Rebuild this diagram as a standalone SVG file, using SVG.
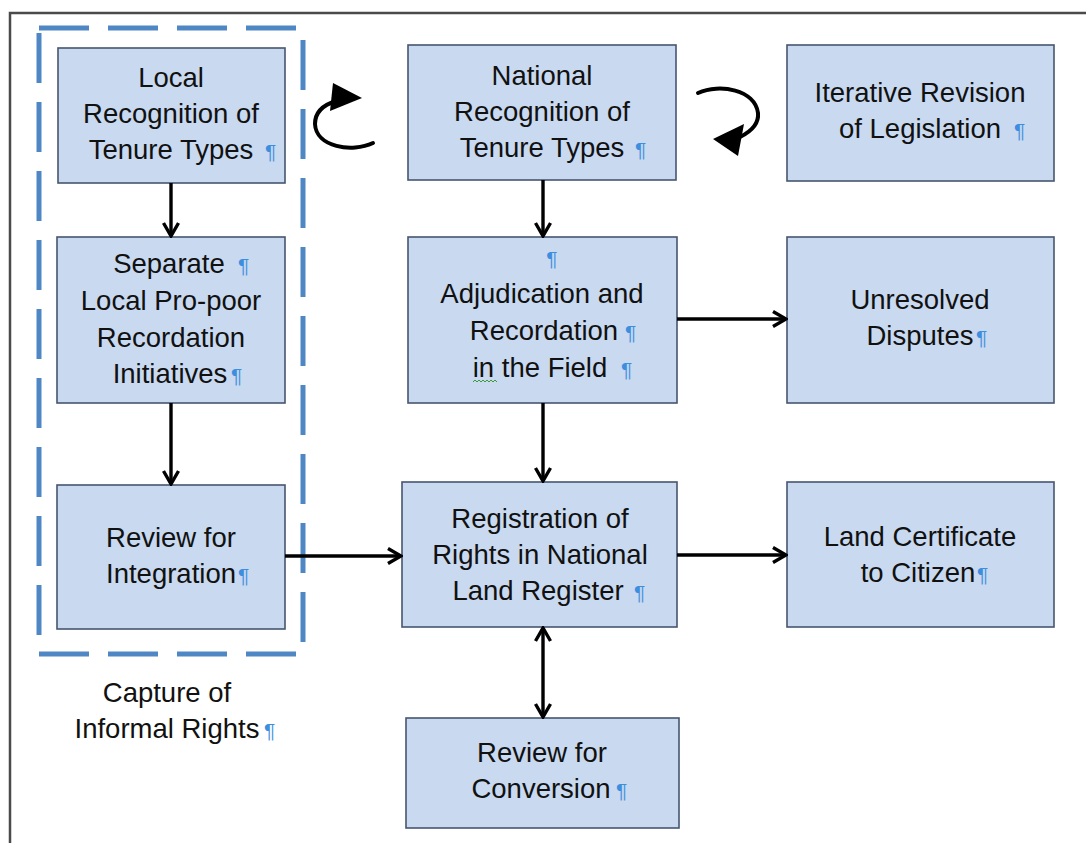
<svg xmlns="http://www.w3.org/2000/svg" width="1086" height="843" viewBox="0 0 1086 843">
<style>
.box{fill:#c8d9f0;stroke:#46566e;stroke-width:1.6}
.t{font-family:"Liberation Sans",Arial,sans-serif;font-size:27.5px;fill:#111;text-anchor:middle}
.p{font-family:"Liberation Sans",Arial,sans-serif;font-size:21px;fill:#3d8ede}
.pm{font-family:"Liberation Sans",Arial,sans-serif;font-size:21px;fill:#3d8ede;text-anchor:middle}
.ln{stroke:#000;stroke-width:3.4;fill:none}
</style>
<defs>
<marker id="ah" viewBox="0 0 18 18" markerWidth="18" markerHeight="18" refX="16" refY="9" orient="auto-start-reverse" markerUnits="userSpaceOnUse">
<path d="M3,1.5 L16,9 L3,16.5" fill="none" stroke="#000" stroke-width="3.4"/>
</marker>
</defs>
<rect width="1086" height="843" fill="#fff"/>
<path d="M10,843 V13 H1086" fill="none" stroke="#4a4a4a" stroke-width="2.5"/>
<g id="capture-group">
<rect x="39" y="28" width="264" height="626" fill="none" stroke="#4f87c4" stroke-width="5" stroke-dasharray="50 19"/>
<text class="t" x="167" y="702">Capture of</text>
<text class="t" x="167" y="738">Informal Rights</text>
<text class="p" x="264" y="738">¶</text>
</g>
<g id="local-recognition">
<rect class="box" x="58" y="48" width="227" height="135"/>
<text class="t" x="171" y="87">Local</text>
<text class="t" x="171" y="123">Recognition of</text>
<text class="t" x="171" y="159">Tenure Types</text>
<text class="p" x="265" y="159">¶</text>
</g>
<g id="separate-local">
<rect class="box" x="57" y="237" width="228" height="166"/>
<text class="t" x="169" y="273">Separate</text>
<text class="p" x="238" y="273">¶</text>
<text class="t" x="171" y="310">Local Pro-poor</text>
<text class="t" x="171" y="347">Recordation</text>
<text class="t" x="170" y="383">Initiatives</text>
<text class="p" x="231" y="383">¶</text>
</g>
<g id="review-integration">
<rect class="box" x="57" y="485" width="228" height="144"/>
<text class="t" x="171" y="547">Review for</text>
<text class="t" x="171" y="583">Integration</text>
<text class="p" x="238" y="583">¶</text>
</g>
<g id="national-recognition">
<rect class="box" x="408" y="45" width="268" height="135"/>
<text class="t" x="542" y="85">National</text>
<text class="t" x="542" y="121">Recognition of</text>
<text class="t" x="542" y="157">Tenure Types</text>
<text class="p" x="635" y="157">¶</text>
</g>
<g id="iterative-revision">
<rect class="box" x="787" y="45" width="267" height="136"/>
<text class="t" x="920" y="102">Iterative Revision</text>
<text class="t" x="920" y="138">of Legislation</text>
<text class="p" x="1014" y="138">¶</text>
</g>
<g id="adjudication">
<rect class="box" x="408" y="237" width="269" height="166"/>
<text class="pm" x="552" y="266">¶</text>
<text class="t" x="542" y="303">Adjudication and</text>
<text class="t" x="544" y="340">Recordation</text>
<text class="p" x="625" y="340">¶</text>
<text class="t" x="540" y="377">in the Field</text>
<text class="p" x="621" y="377">¶</text>
<path d="M473,382 l2,-2 l2,2 l2,-2 l2,2 l2,-2 l2,2 l2,-2 l2,2 l2,-2 l2,2 l2,-2 l2,2" fill="none" stroke="#3a9a3a" stroke-width="1"/>
</g>
<g id="unresolved-disputes">
<rect class="box" x="787" y="237" width="267" height="166"/>
<text class="t" x="920" y="309">Unresolved</text>
<text class="t" x="920" y="345">Disputes</text>
<text class="p" x="976" y="345">¶</text>
</g>
<g id="registration">
<rect class="box" x="402" y="482" width="275" height="145"/>
<text class="t" x="540" y="528">Registration of</text>
<text class="t" x="540" y="564">Rights in National</text>
<text class="t" x="538" y="600">Land Register</text>
<text class="p" x="634" y="600">¶</text>
</g>
<g id="land-certificate">
<rect class="box" x="787" y="482" width="267" height="145"/>
<text class="t" x="920" y="546">Land Certificate</text>
<text class="t" x="918" y="582">to Citizen</text>
<text class="p" x="977" y="582">¶</text>
</g>
<g id="review-conversion">
<rect class="box" x="406" y="718" width="273" height="110"/>
<text class="t" x="542" y="762">Review for</text>
<text class="t" x="541" y="798">Conversion</text>
<text class="p" x="616" y="798">¶</text>
</g>
<g id="connectors">
<line class="ln" x1="171" y1="183" x2="171" y2="236" marker-end="url(#ah)"/>
<line class="ln" x1="171" y1="403" x2="171" y2="484" marker-end="url(#ah)"/>
<line class="ln" x1="543" y1="180" x2="543" y2="236" marker-end="url(#ah)"/>
<line class="ln" x1="543" y1="403" x2="543" y2="481" marker-end="url(#ah)"/>
<line class="ln" x1="677" y1="319" x2="786" y2="319" marker-end="url(#ah)"/>
<line class="ln" x1="285" y1="556" x2="401" y2="556" marker-end="url(#ah)"/>
<line class="ln" x1="677" y1="555" x2="786" y2="555" marker-end="url(#ah)"/>
<line class="ln" x1="543" y1="628" x2="543" y2="717" marker-start="url(#ah)" marker-end="url(#ah)"/>
<path d="M373,143 C352,153 316,147 315,124 C315,112 323,105 336,101" fill="none" stroke="#000" stroke-width="4" stroke-linecap="round"/>
<polygon points="333,83 362,98 330,111" fill="#000"/>
<path d="M698,93 C720,83 755,90 758,113 C759,123 752,131 740,137" fill="none" stroke="#000" stroke-width="4" stroke-linecap="round"/>
<polygon points="713,139 744,124 738,156" fill="#000"/>
</g>
</svg>
